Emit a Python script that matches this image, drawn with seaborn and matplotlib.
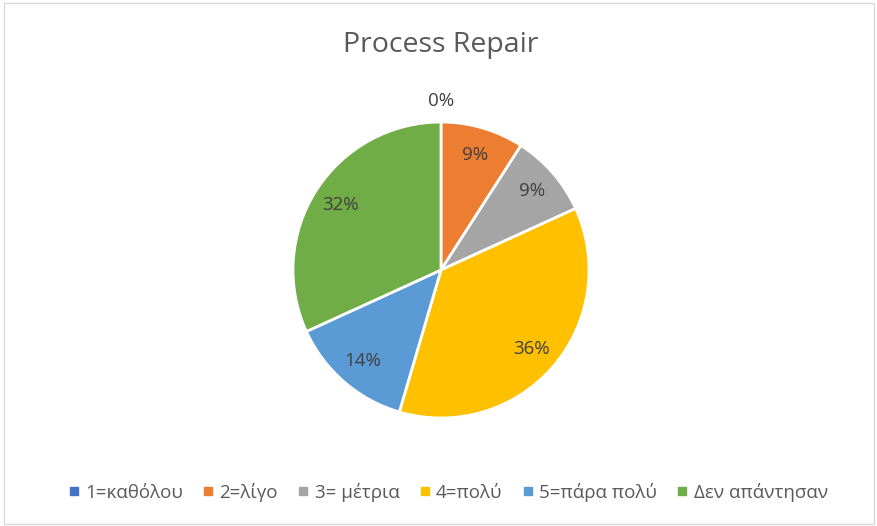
import matplotlib
matplotlib.use("Agg")
import matplotlib.pyplot as plt
import seaborn as sns
from matplotlib.lines import Line2D
from matplotlib.patches import Rectangle
import numpy as np

categories = ["1=καθόλου", "2=λίγο", "3= μέτρια", "4=πολύ", "5=πάρα πολύ", "Δεν απάντησαν"]
counts = [0, 2, 2, 8, 3, 7]
colors = ["#4472C4", "#ED7D31", "#A5A5A5", "#FFC000", "#5B9BD5", "#70AD47"]
title = "Process Repair"

sns.set_theme(style="white")
plt.rcParams['font.family'] = ['Open Sans', 'DejaVu Sans']

W, H = 878, 526
fig = plt.figure(figsize=(W / 100, H / 100), dpi=100)
fig.patch.set_facecolor("white")
fig.patches.append(Rectangle((0.004, 0.004), 0.992, 0.99, transform=fig.transFigure,
                             fill=False, edgecolor="#D9D9D9", linewidth=1))

cx, cy, r = 441, 270, 148
ax = fig.add_axes([(cx - r) / W, (H - cy - r) / H, 2 * r / W, 2 * r / H])

total = sum(counts)
wedges, texts = ax.pie(counts, colors=colors, startangle=90, counterclock=False,
                       radius=1, wedgeprops=dict(edgecolor="white", linewidth=2))
ax.set_xlim(-1, 1)
ax.set_ylim(-1, 1)
ax.set_aspect("equal")
ax.axis("off")

pcts = [round(100 * c / total) for c in counts]
ang = 90.0
for i, c in enumerate(counts):
    frac = c / total
    mid = ang - 360 * frac / 2
    ang -= 360 * frac
    if c == 0:
        x, y = 0, 1.14
    else:
        d = 0.81
        x, y = d * np.cos(np.radians(mid)), d * np.sin(np.radians(mid))
    ax.text(x, y, f"{pcts[i]}%", ha="center", va="center", fontsize=13.5,
            color="#404040", clip_on=False)

fig.text(cx / W, 1 - 45 / H, title, ha="center", va="center", fontsize=20.5, color="#595959")

handles = [Line2D([0], [0], marker="s", linestyle="", markersize=6,
                  markerfacecolor=col, markeredgecolor=col) for col in colors]
fig.legend(handles, categories, loc="center", bbox_to_anchor=(448 / W, 1 - 492 / H),
           ncol=6, frameon=False, fontsize=13.5, handlelength=0.6, handletextpad=0.3,
           columnspacing=1.05, labelcolor="#595959")

fig.savefig("out.png", dpi=100)
